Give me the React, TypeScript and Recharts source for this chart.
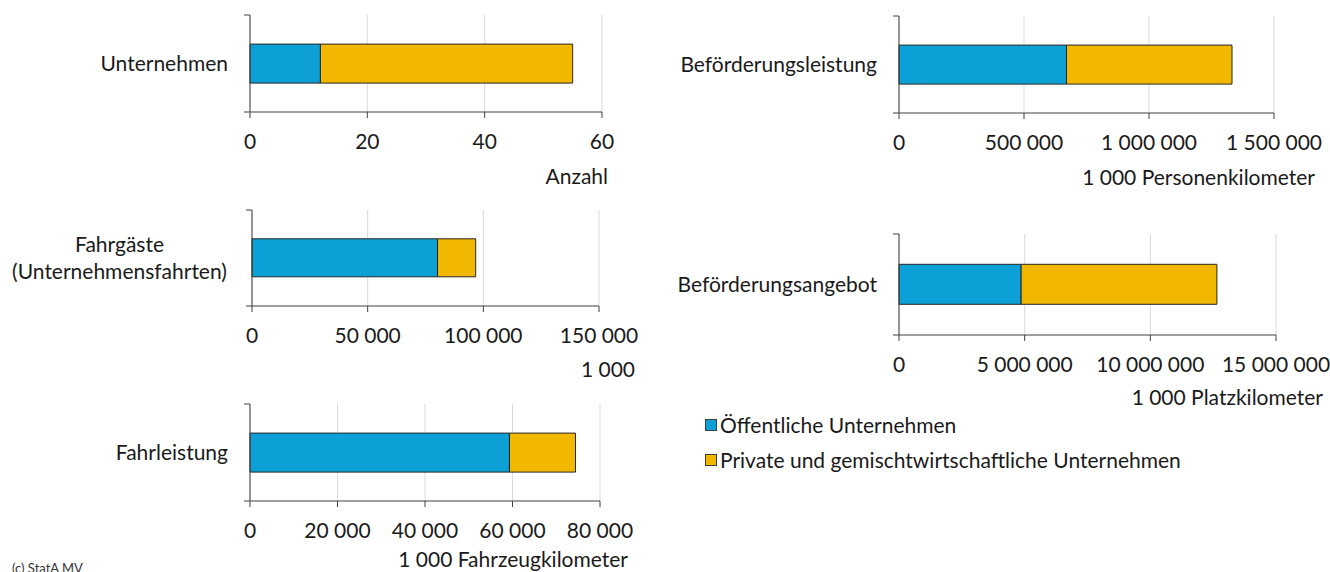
import { Bar, BarChart, CartesianGrid, Legend, XAxis, YAxis } from 'recharts';

// values, one entry per panel
const categories = [
  'Unternehmen',
  'Beförderungsleistung',
  'Fahrgäste\n(Unternehmensfahrten)',
  'Beförderungsangebot',
  'Fahrleistung',
];
const publicValues = [12, 670000, 80200, 4860000, 59300];
const privateValues = [43, 662000, 16500, 7790000, 15100];
const axisTicks = [
  [0, 20, 40, 60],
  [0, 500000, 1000000, 1500000],
  [0, 50000, 100000, 150000],
  [0, 5000000, 10000000, 15000000],
  [0, 20000, 40000, 60000, 80000],
];
const units = ['Anzahl', '1 000 Personenkilometer', '1 000', '1 000 Platzkilometer', '1 000 Fahrzeugkilometer'];
const seriesNames = ['Öffentliche Unternehmen', 'Private und gemischtwirtschaftliche Unternehmen'];

const BLUE = '#0DA0D7';
const GOLD = '#F2B800';
const INK = '#1a1a1a';
const AXIS = '#404040';
const FONT = 'Lato, sans-serif';
const FS = 21;
const X_AXIS_H = 60;
const TICK_GAP = 22;

// where each panel sits on the page (margin.left leaves 1px for the y axis)
const panels = [
  { left: 0, top: 0, width: 660, height: 195, margin: { top: 15, right: 58, left: 249, bottom: 23 }, unitDx: 6, unitDy: 72, labelWidth: 0 },
  { left: 650, top: 0, width: 680, height: 195, margin: { top: 16, right: 56, left: 248, bottom: 22 }, unitDx: 41, unitDy: 72, labelWidth: 0 },
  { left: 0, top: 195, width: 660, height: 195, margin: { top: 15, right: 61, left: 251, bottom: 24 }, unitDx: 36, unitDy: 71, labelWidth: 221 },
  { left: 650, top: 215, width: 680, height: 260, margin: { top: 19, right: 54, left: 248, bottom: 80 }, unitDx: 47, unitDy: 70, labelWidth: 0 },
  { left: 0, top: 390, width: 660, height: 182, margin: { top: 14, right: 60, left: 249, bottom: 11 }, unitDx: 28, unitDy: 66, labelWidth: 0 },
];

function fmt(n: number): string {
  return String(n).replace(/\B(?=(\d{3})+(?!\d))/g, ' ');
}

// category label plus the short outward marks at the top and bottom of the y axis
function CategoryTick({ x, y, payload, labelWidth, plotH }: any) {
  const lines = String(payload.value).split('\n');
  const ax = x + TICK_GAP;
  const marks = (
    <g stroke={AXIS} strokeWidth={1}>
      <line x1={ax - 6} x2={ax} y1={y - plotH / 2} y2={y - plotH / 2} />
      <line x1={ax - 6} x2={ax} y1={y + plotH / 2} y2={y + plotH / 2} />
    </g>
  );
  if (lines.length === 1) {
    return (
      <g>
        {marks}
        <text x={x} y={y + 7} textAnchor="end" fill={INK} fontSize={FS} fontFamily={FONT}>
          {lines[0]}
        </text>
      </g>
    );
  }
  const cx = x - labelWidth / 2;
  const lh = 27;
  return (
    <g>
      {marks}
      <text textAnchor="middle" fill={INK} fontSize={FS} fontFamily={FONT}>
        {lines.map((l, k) => (
          <tspan key={k} x={cx} y={y + 7 + (k - (lines.length - 1) / 2) * lh}>
            {l}
          </tspan>
        ))}
      </text>
    </g>
  );
}

function LegendBox({ payload }: any) {
  const items = [...(payload || [])].sort(
    (a: any, b: any) => seriesNames.indexOf(a.value) - seriesNames.indexOf(b.value)
  );
  return (
    <div style={{ fontFamily: FONT, fontSize: FS, color: INK }}>
      {items.map((e: any) => (
        <div key={e.value} style={{ display: 'flex', alignItems: 'center', height: 35, whiteSpace: 'nowrap' }}>
          <span
            style={{
              display: 'inline-block',
              width: 10,
              height: 10,
              background: e.color,
              border: '1px solid #404040',
              marginRight: 3,
            }}
          />
          <span>{e.value}</span>
        </div>
      ))}
    </div>
  );
}

function Panel({ i }: { i: number }) {
  const p = panels[i];
  const ticks = axisTicks[i];
  const plotH = p.height - p.margin.top - p.margin.bottom - X_AXIS_H;
  const data = [{ name: categories[i], pub: publicValues[i], priv: privateValues[i] }];
  return (
    <div style={{ position: 'absolute', left: p.left, top: p.top }}>
      <BarChart
        width={p.width}
        height={p.height}
        data={data}
        layout="vertical"
        margin={p.margin}
        barCategoryGap="30%"
      >
        <CartesianGrid horizontal={false} stroke="#D9D9D9" />
        <XAxis
          type="number"
          domain={[0, ticks[ticks.length - 1]]}
          ticks={ticks}
          interval={0}
          height={X_AXIS_H}
          tickFormatter={fmt}
          tickSize={6}
          tickMargin={16}
          stroke={AXIS}
          tick={{ fill: INK, fontSize: FS, fontFamily: FONT }}
          label={{
            content: (lp: any) => {
              const vb = lp.viewBox || {};
              return (
                <text
                  x={vb.x + vb.width + p.unitDx}
                  y={vb.y + p.unitDy}
                  textAnchor="end"
                  fill={INK}
                  fontSize={FS}
                  fontFamily={FONT}
                >
                  {units[i]}
                </text>
              );
            },
          }}
        />
        <YAxis
          type="category"
          dataKey="name"
          width={1}
          stroke={AXIS}
          tickLine={false}
          tickSize={0}
          tickMargin={TICK_GAP}
          tick={<CategoryTick labelWidth={p.labelWidth} plotH={plotH} />}
        />
        <Bar dataKey="pub" name={seriesNames[0]} stackId="s" fill={BLUE} stroke="#262626" strokeWidth={1} isAnimationActive={false} />
        <Bar dataKey="priv" name={seriesNames[1]} stackId="s" fill={GOLD} stroke="#262626" strokeWidth={1} isAnimationActive={false} />
        {i === 3 && (
          <Legend
            layout="vertical"
            align="center"
            verticalAlign="middle"
            content={<LegendBox />}
            wrapperStyle={{ left: 55, top: 192, width: 'auto' }}
          />
        )}
      </BarChart>
    </div>
  );
}

export default function App() {
  return (
    <div
      style={{
        position: 'absolute',
        left: 0,
        top: 0,
        width: 1330,
        height: 572,
        background: '#fff',
        overflow: 'hidden',
        fontFamily: FONT,
      }}
    >
      {panels.map((_, i) => (
        <Panel key={i} i={i} />
      ))}
      <div style={{ position: 'absolute', left: 12, top: 560, fontSize: 13, color: '#333', fontFamily: FONT }}>
        (c) StatA MV
      </div>
    </div>
  );
}
